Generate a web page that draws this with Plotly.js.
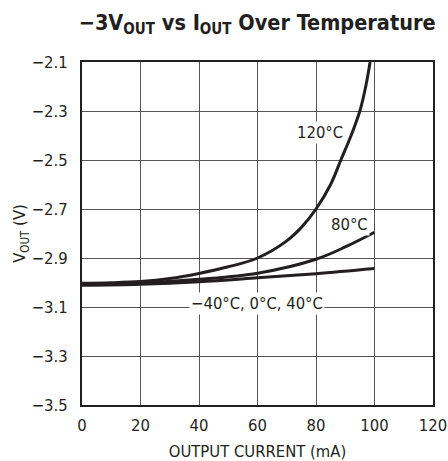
<!DOCTYPE html>
<html>
<head>
<meta charset="utf-8">
<script src="https://cdn.plot.ly/plotly-3.0.1.min.js"></script>
<style>
html,body{margin:0;padding:0;background:#fff;}
#chart{width:448px;height:461px;}
#chart svg text{font-stretch:condensed !important;}
</style>
</head>
<body>
<div id="chart"></div>
<script>
// Output current (mA) and output voltage (V)
const x120 = [0, 10, 20, 30, 40, 50, 60, 70, 75, 80, 85, 88.5, 92, 95, 97, 98.5];
const y120 = [-3.003, -3.001, -2.996, -2.984, -2.963, -2.936, -2.9, -2.83, -2.775, -2.7, -2.6, -2.5, -2.4, -2.3, -2.2, -2.1];
const x80 = [0, 20, 40, 60, 80, 90, 100];
const y80 = [-3.006, -3.002, -2.987, -2.962, -2.905, -2.855, -2.795];
const xLow = [0, 20, 40, 60, 80, 100];
const yLow = [-3.011, -3.007, -2.997, -2.981, -2.964, -2.943];
const xTicks = [0, 20, 40, 60, 80, 100, 120];
const yTicks = [-3.5, -3.3, -3.1, -2.9, -2.7, -2.5, -2.3, -2.1];
const labels = [
  {text: '120°C', x: 81.2, y: -2.386},
  {text: '80°C', x: 91.3, y: -2.765},
  {text: '−40°C, 0°C, 40°C', x: 59.7, y: -3.086}
];

const FONT = '"Liberation Sans Narrow", "DejaVu Sans Condensed", Roboto, sans-serif';
const LINE = {color: '#231f20', width: 3};
const FS = 16.5;

const traces = [
  {x: xLow, y: yLow, mode: 'lines', line: Object.assign({shape: 'spline'}, LINE), hoverinfo: 'skip'},
  {x: x80, y: y80, mode: 'lines', line: Object.assign({shape: 'spline'}, LINE), hoverinfo: 'skip'},
  {x: x120, y: y120, mode: 'lines', line: Object.assign({shape: 'spline'}, LINE), hoverinfo: 'skip'}
];

const annotations = labels.map(l => ({
  x: l.x, y: l.y, xref: 'x', yref: 'y', text: l.text, showarrow: false,
  font: {family: FONT, size: FS, color: '#231f20'}, bgcolor: '#ffffff', borderpad: 1
}));

const layout = {
  width: 448, height: 461,
  margin: {l: 82, r: 15, t: 62, b: 56},
  paper_bgcolor: '#ffffff', plot_bgcolor: '#ffffff',
  showlegend: false,
  font: {family: FONT, size: FS, color: '#231f20'},
  title: {
    text: '<b>−3V<sub>OUT</sub> vs I<sub>OUT</sub> Over Temperature</b>',
    font: {family: FONT, size: 21.5, color: '#231f20'},
    x: 0.574, xanchor: 'center', y: 0.952, yanchor: 'middle'
  },
  xaxis: {
    range: [0, 120], tickvals: xTicks, ticktext: xTicks.map(String),
    showgrid: true, gridcolor: '#555555', gridwidth: 1,
    showline: true, linecolor: '#231f20', linewidth: 2, mirror: true,
    ticks: '', zeroline: false, ticklabelstandoff: 4, ticklabeloverflow: 'allow',
    tickfont: {family: FONT, size: FS, color: '#231f20'},
    title: {text: 'OUTPUT CURRENT (mA)', font: {family: FONT, size: FS, color: '#231f20'}, standoff: 12}
  },
  yaxis: {
    range: [-3.5, -2.1], tickvals: yTicks, tickformat: '.1f',
    showgrid: true, gridcolor: '#555555', gridwidth: 1,
    showline: true, linecolor: '#231f20', linewidth: 2, mirror: true,
    ticks: '', zeroline: false, ticklabelstandoff: 9,
    tickfont: {family: FONT, size: FS, color: '#231f20'},
    title: {text: 'V<sub>OUT</sub> (V)', font: {family: FONT, size: FS, color: '#231f20'}, standoff: 1}
  },
  annotations: annotations
};

Plotly.newPlot('chart', traces, layout, {displayModeBar: false, staticPlot: true});
</script>
</body>
</html>
